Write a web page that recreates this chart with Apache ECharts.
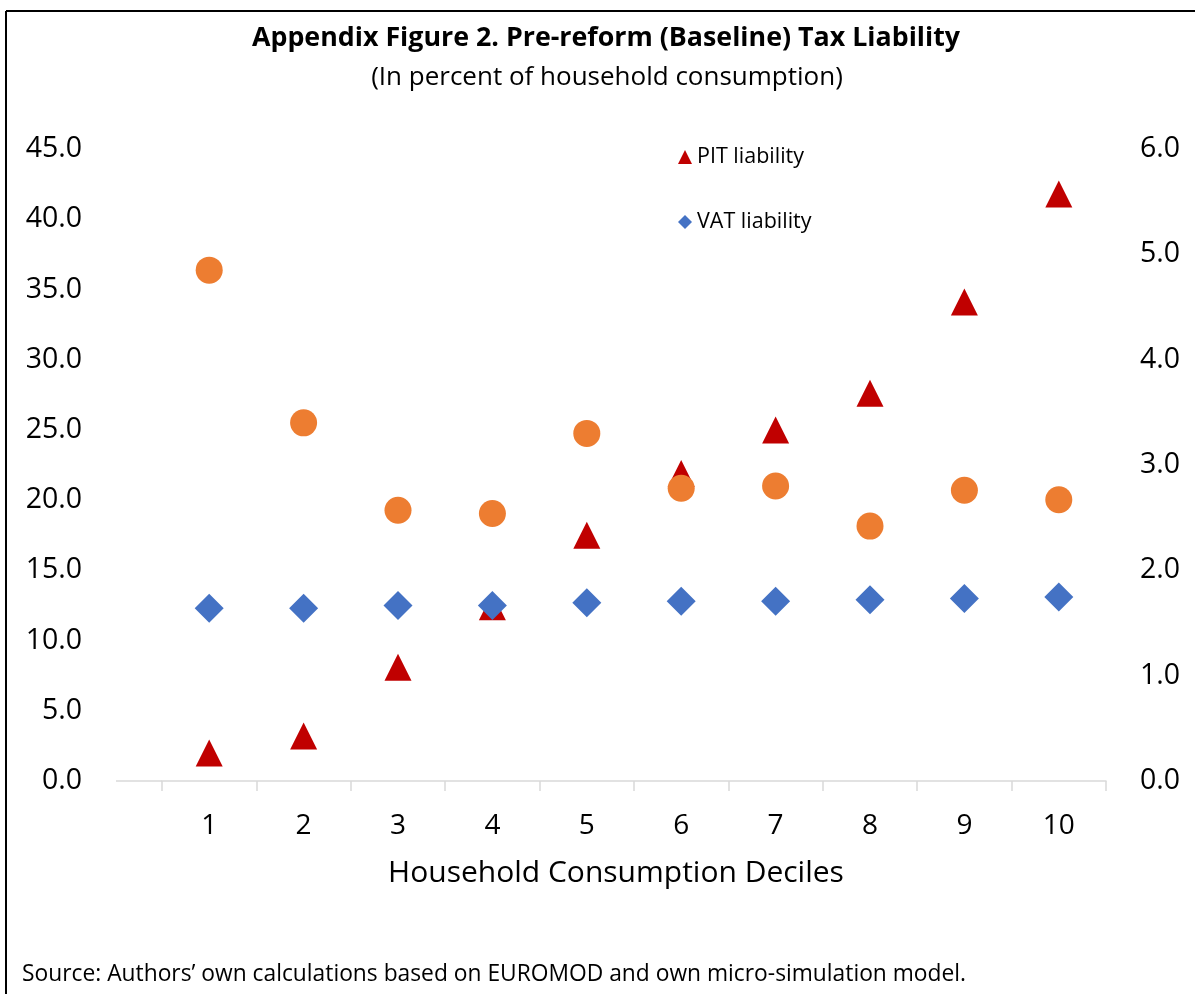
<!DOCTYPE html>
<html>
<head>
<meta charset="utf-8">
<title>Pre-reform (Baseline) Tax Liability</title>
<script src="https://cdn.jsdelivr.net/npm/echarts@6/dist/echarts.min.js"></script>
<style>
  html, body { margin: 0; padding: 0; background: #ffffff; }
  #chart { width: 1195px; height: 994px; }
</style>
</head>
<body>
<div id="chart"></div>
<script>
// Household consumption deciles
const deciles = ['1', '2', '3', '4', '5', '6', '7', '8', '9', '10'];

// PIT liability, percent of household consumption (left axis)
const pitLiability = [2.0, 3.2, 8.1, 12.4, 17.5, 21.9, 25.0, 27.6, 34.1, 41.8];

// VAT liability, percent of household consumption (left axis)
const vatLiability = [12.3, 12.3, 12.5, 12.5, 12.7, 12.8, 12.8, 12.9, 13.0, 13.1];

// Third series plotted against the right axis
const rightAxisSeries = [4.85, 3.40, 2.57, 2.54, 3.30, 2.78, 2.80, 2.42, 2.76, 2.67];

// Axis ranges
const leftAxisMax = 45, leftAxisStep = 5;
const rightAxisMax = 6, rightAxisStep = 1;

const FONT = '"Open Sans", "Noto Sans", sans-serif';
const AXIS_GREY = '#d9d9d9';

const chart = echarts.init(document.getElementById('chart'), null, { renderer: 'canvas' });

chart.setOption({
  backgroundColor: '#ffffff',
  animation: false,
  textStyle: { fontFamily: FONT, color: '#000000' },
  title: [
    {
      text: 'Appendix Figure 2. Pre-reform (Baseline) Tax Liability',
      left: 601, top: 20, textAlign: 'center',
      textStyle: { fontFamily: FONT, fontSize: 26.8, fontWeight: 'bold', color: '#000000' }
    },
    {
      text: '(In percent of household consumption)',
      left: 602, top: 60, textAlign: 'center',
      textStyle: { fontFamily: FONT, fontSize: 26, fontWeight: 'normal', color: '#000000' }
    },
    {
      text: 'Household Consumption Deciles',
      left: 611, top: 853, textAlign: 'center',
      textStyle: { fontFamily: FONT, fontSize: 30, fontWeight: 'normal', color: '#000000' }
    },
    {
      text: 'Source: Authors\u2019 own calculations based on EUROMOD and own micro-simulation model.',
      left: 17, top: 958,
      textStyle: { fontFamily: FONT, fontSize: 22.8, fontWeight: 'normal', color: '#000000' }
    }
  ],
  legend: {
    orient: 'vertical',
    left: 673, top: 140,
    itemWidth: 14, itemHeight: 14,
    itemGap: 41,
    data: [
      { name: 'PIT liability', icon: 'triangle' },
      { name: 'VAT liability', icon: 'diamond' }
    ],
    textStyle: { fontFamily: FONT, fontSize: 21.5, color: '#000000', lineHeight: 24, padding: [0, 0, 0, 0] }
  },
  grid: { left: 162, right: 89, top: 149, bottom: 213, containLabel: false },
  xAxis: {
    type: 'category',
    data: deciles,
    boundaryGap: true,
    axisLine: { show: true, lineStyle: { color: AXIS_GREY, width: 1.5 } },
    axisTick: { show: true, interval: 0, length: 10, lineStyle: { color: AXIS_GREY, width: 1.5 } },
    axisLabel: { fontFamily: FONT, fontSize: 28, color: '#000000', margin: 31 },
    splitLine: { show: false }
  },
  yAxis: [
    {
      type: 'value',
      min: 0, max: leftAxisMax, interval: leftAxisStep,
      position: 'left',
      axisLine: { show: false },
      axisTick: { show: false },
      splitLine: { show: false },
      axisLabel: {
        fontFamily: FONT, fontSize: 28.5, color: '#000000', margin: 80,
        formatter: v => v.toFixed(1)
      }
    },
    {
      type: 'value',
      min: 0, max: rightAxisMax, interval: rightAxisStep,
      position: 'right',
      axisLine: { show: false },
      axisTick: { show: false },
      splitLine: { show: false },
      axisLabel: {
        fontFamily: FONT, fontSize: 28.5, color: '#000000', margin: 34,
        formatter: v => v.toFixed(1)
      }
    }
  ],
  series: [
    {
      name: 'PIT liability',
      type: 'scatter',
      yAxisIndex: 0,
      data: pitLiability,
      symbol: 'triangle',
      symbolSize: 27,
      itemStyle: { color: '#C00000', opacity: 1 },
      z: 2
    },
    {
      name: 'VAT liability',
      type: 'scatter',
      yAxisIndex: 0,
      data: vatLiability,
      symbol: 'diamond',
      symbolSize: 29,
      itemStyle: { color: '#4472C4', opacity: 1 },
      z: 3
    },
    {
      name: 'Right-axis series',
      type: 'scatter',
      yAxisIndex: 1,
      data: rightAxisSeries,
      symbol: 'circle',
      symbolSize: 27,
      itemStyle: { color: '#ED7D31', opacity: 1 },
      z: 4
    }
  ],
  graphic: [
    // Frame along the top and left edges
    { type: 'line', shape: { x1: 6, y1: 11, x2: 1195, y2: 11 }, style: { stroke: '#000000', lineWidth: 2 } },
    { type: 'line', shape: { x1: 6, y1: 11, x2: 6, y2: 994 }, style: { stroke: '#000000', lineWidth: 2 } },
    // Category axis line continues a short way left of the first tick
    { type: 'line', shape: { x1: 116, y1: 781, x2: 162, y2: 781 }, style: { stroke: AXIS_GREY, lineWidth: 1.5 } }
  ]
});
</script>
</body>
</html>
